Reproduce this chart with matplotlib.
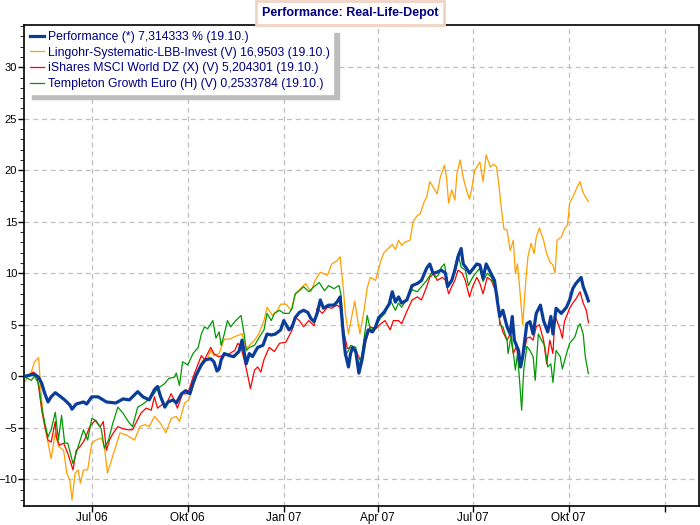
import datetime as dt
import matplotlib
matplotlib.use("Agg")
import matplotlib.pyplot as plt
from matplotlib.ticker import MultipleLocator

plt.rcParams['font.family'] = ['Liberation Sans', 'DejaVu Sans']

# Tage seit 27.04.2006, Werte in %
start = dt.date(2006, 4, 27)

perf_days = [1, 10, 14, 17, 20, 23, 26, 30, 34, 39, 44, 46, 50, 57, 60, 65, 71, 79, 88, 95,
             101, 109, 114, 120, 125, 128, 131, 135, 138, 143, 146, 151, 155, 159, 162, 165,
             170, 174, 179, 182, 185, 187, 189, 192, 197, 201, 206, 209, 213, 216, 219, 224,
             229, 233, 237, 241, 246, 249, 254, 257, 260, 264, 268, 272, 275, 278, 281, 284,
             287, 292, 297, 300, 303, 306, 308, 311, 313, 315, 318, 321, 324, 327, 330, 334,
             337, 340, 345, 350, 353, 356, 359, 362, 367, 372, 377, 381, 386, 389, 392, 396,
             400, 404, 406, 410, 413, 416, 419, 421, 424, 427, 431, 434, 437, 440, 443, 447,
             451, 454, 456, 459, 463, 466, 468, 470, 474, 476, 478, 482, 485, 488, 491, 495,
             498, 502, 505, 507, 510, 515, 520, 523, 526, 529, 534, 536, 539, 541]
perf_vals = [0.0, 0.2, -0.1, -0.7, -1.7, -2.5, -2.0, -1.6, -1.9, -2.3, -2.8, -3.2, -2.7, -2.5,
             -2.7, -2.0, -2.0, -2.5, -2.6, -2.2, -2.3, -1.5, -2.0, -2.3, -1.3, -1.0, -2.0, -3.0,
             -2.5, -2.3, -2.6, -1.7, -1.4, -1.7, -0.7, 0.1, 1.1, 1.6, 1.7, 1.4, 0.5, 0.7, 1.6,
             2.2, 2.0, 1.9, 2.4, 3.5, 1.2, 2.2, 1.9, 2.8, 3.0, 4.1, 4.0, 4.1, 4.5, 5.4, 4.5, 4.8,
             5.7, 6.2, 6.4, 6.2, 5.6, 5.3, 6.1, 7.4, 6.6, 6.9, 6.9, 7.2, 7.7, 4.1, 2.2, 0.9, 2.2,
             2.8, 2.4, 0.3, 1.6, 3.5, 4.5, 4.3, 4.8, 5.7, 6.2, 7.0, 8.2, 7.2, 7.7, 7.1, 7.4, 8.8,
             9.0, 9.3, 10.5, 10.9, 10.0, 10.1, 10.3, 10.0, 8.7, 9.3, 10.3, 11.6, 12.4, 10.9,
             10.5, 10.0, 10.5, 10.9, 10.8, 9.5, 10.9, 10.1, 9.3, 7.1, 5.8, 6.4, 4.8, 4.1, 5.8,
             3.5, 2.5, 0.9, 1.9, 5.1, 5.3, 4.1, 6.1, 6.9, 5.4, 4.3, 5.8, 4.1, 6.6, 6.1, 6.7, 7.4,
             8.5, 9.0, 9.6, 8.7, 7.9, 7.31]

ling_days = [1, 7, 10, 14, 16, 18, 22, 25, 26, 30, 33, 38, 41, 44, 46, 49, 52, 54, 57, 61, 65,
             69, 74, 77, 80, 84, 88, 92, 98, 106, 111, 116, 120, 125, 131, 136, 141, 146, 149,
             154, 158, 162, 166, 171, 176, 179, 182, 187, 192, 197, 201, 206, 209, 213, 216,
             221, 225, 230, 233, 238, 243, 246, 251, 256, 260, 265, 270, 275, 279, 284, 291,
             295, 300, 303, 306, 308, 311, 314, 317, 320, 322, 326, 329, 332, 337, 342, 345,
             350, 353, 356, 359, 362, 365, 370, 373, 377, 380, 383, 386, 389, 392, 396, 399,
             403, 405, 407, 410, 413, 415, 418, 421, 424, 427, 429, 432, 437, 440, 443, 447,
             450, 453, 455, 458, 460, 463, 466, 469, 471, 473, 475, 478, 481, 483, 486, 489,
             491, 494, 498, 501, 504, 507, 509, 511, 515, 518, 521, 523, 526, 529, 533, 535,
             537, 541]
ling_vals = [-0.5, 0.4, 1.4, 1.8, -1.0, -3.6, -5.9, -7.5, -8.0, -5.5, -6.8, -7.2, -9.4, -10.1,
             -12.0, -9.4, -9.1, -10.4, -9.1, -9.1, -6.5, -6.2, -6.0, -6.8, -9.4, -8.1, -6.8,
             -5.5, -5.7, -6.2, -4.9, -4.7, -4.9, -3.9, -4.6, -5.5, -4.1, -3.9, -4.4, -2.6, -2.3,
             -1.0, 0.3, 1.5, 1.7, 2.5, 2.0, 2.2, 3.6, 3.6, 3.8, 4.0, 4.1, 2.7, 3.0, 3.5, 4.1,
             5.4, 6.7, 5.9, 6.4, 7.0, 7.0, 6.4, 8.0, 8.5, 9.0, 8.2, 9.3, 10.1, 9.8, 10.9, 11.2,
             11.6, 8.6, 6.1, 4.1, 5.7, 7.3, 5.4, 4.1, 6.4, 8.6, 9.6, 9.3, 11.2, 12.0, 12.5, 12.8,
             12.3, 13.2, 12.7, 13.0, 13.2, 15.0, 15.6, 15.8, 16.8, 17.4, 18.9, 18.4, 17.7, 19.3,
             20.5, 19.3, 16.8, 18.1, 17.1, 19.7, 21.0, 19.3, 18.1, 17.2, 18.1, 20.0, 20.8, 18.9,
             21.5, 20.3, 20.6, 20.3, 18.7, 15.9, 14.3, 14.2, 12.2, 13.2, 10.0, 10.9, 8.7, 5.0,
             9.3, 11.6, 12.9, 11.9, 13.5, 14.4, 13.2, 11.9, 11.1, 10.8, 10.0, 13.2, 13.5, 14.3,
             14.7, 16.8, 17.4, 18.1, 18.9, 18.1, 17.6, 16.95]

msci_days = [1, 9, 12, 14, 17, 20, 23, 26, 30, 31, 34, 38, 42, 47, 50, 54, 58, 63, 68, 73,
             76, 79, 82, 85, 90, 95, 100, 104, 108, 112, 117, 122, 125, 128, 133, 136, 141,
             144, 147, 152, 157, 162, 167, 170, 173, 176, 179, 182, 186, 192, 197, 202, 205,
             208, 211, 214, 217, 221, 224, 227, 230, 235, 240, 245, 251, 257, 260, 264, 268,
             273, 278, 281, 286, 291, 295, 300, 303, 307, 310, 315, 318, 323, 327, 332, 337,
             342, 346, 351, 354, 359, 362, 367, 372, 377, 381, 386, 389, 393, 396, 401, 404,
             407, 410, 413, 416, 420, 423, 427, 430, 434, 437, 440, 444, 448, 453, 456, 459,
             463, 466, 469, 472, 475, 479, 482, 485, 488, 491, 494, 498, 501, 504, 507, 509,
             514, 516, 518, 523, 526, 529, 533, 536, 539, 541]
msci_vals = [-0.1, 0.4, 0.1, -1.0, -3.3, -4.9, -6.2, -6.4, -4.4, -5.9, -6.7, -6.5, -7.5, -9.1,
             -7.2, -6.8, -6.2, -4.9, -4.3, -4.9, -4.4, -7.2, -6.2, -5.6, -4.9, -5.1, -5.2, -5.2,
             -4.4, -3.6, -3.1, -3.3, -2.0, -3.1, -2.7, -2.8, -1.7, -2.3, -3.1, -1.7, -1.7, -0.1,
             1.2, 2.0, 1.6, 2.2, 2.8, 2.2, 1.9, 2.0, 2.2, 2.5, 3.2, 2.8, 1.6, 0.3, -1.2, 0.6,
             0.9, 0.4, 1.6, 2.8, 2.4, 3.2, 3.3, 4.5, 5.7, 5.4, 4.8, 5.4, 4.9, 6.6, 6.1, 6.7, 6.6,
             6.9, 6.7, 4.1, 2.7, 2.8, 2.5, 1.4, 3.2, 4.8, 4.6, 5.1, 5.4, 4.5, 5.4, 5.4, 5.1, 6.3,
             7.4, 7.7, 7.4, 8.7, 9.6, 10.0, 9.3, 9.6, 9.3, 8.0, 8.7, 9.3, 10.3, 10.0, 9.3, 7.7,
             8.7, 9.6, 9.0, 8.0, 9.6, 9.3, 8.0, 5.4, 4.3, 3.5, 4.1, 2.2, 2.9, 0.9, 2.2, 3.7, 3.8,
             3.5, 4.8, 5.0, 3.5, 1.2, 3.5, 2.2, 5.9, 4.5, 3.7, 5.3, 6.6, 7.1, 7.5, 8.2, 7.1, 6.4,
             5.2]

temp_days = [1, 7, 10, 14, 17, 20, 23, 26, 30, 33, 36, 39, 42, 47, 52, 57, 61, 65, 69, 74, 77,
             81, 85, 90, 95, 100, 104, 109, 114, 119, 124, 128, 135, 139, 144, 146, 149, 152,
             157, 162, 167, 170, 173, 176, 181, 184, 187, 189, 192, 195, 198, 203, 208, 211,
             213, 216, 221, 225, 230, 233, 237, 240, 245, 249, 254, 257, 260, 264, 268, 273,
             278, 283, 288, 292, 297, 302, 304, 306, 308, 311, 313, 318, 321, 324, 329, 332,
             337, 342, 346, 351, 356, 359, 362, 367, 372, 377, 381, 386, 391, 394, 397, 400,
             403, 406, 410, 413, 416, 419, 423, 426, 430, 433, 437, 440, 444, 448, 451, 454,
             456, 459, 463, 464, 467, 471, 473, 475, 477, 479, 482, 485, 488, 490, 493, 496,
             499, 502, 505, 507, 510, 514, 516, 520, 523, 528, 531, 533, 536, 538, 541]
temp_vals = [-0.1, -0.4, 0.0, -0.7, -3.0, -4.6, -5.9, -5.2, -3.5, -6.2, -3.8, -6.5, -6.5, -8.5,
             -6.8, -5.2, -6.2, -4.1, -4.3, -5.1, -7.0, -6.2, -4.6, -3.0, -3.6, -4.4, -4.9, -3.0,
             -2.7, -2.3, -1.8, -1.2, -0.7, -0.2, -0.1, 0.3, -0.9, 1.4, 1.1, 2.2, 2.8, 4.1, 4.8,
             4.6, 5.4, 3.7, 4.3, 3.0, 4.1, 5.4, 4.8, 5.4, 5.9, 4.1, 2.5, 2.8, 3.0, 3.7, 4.5, 6.1,
             5.4, 6.1, 6.4, 6.1, 6.1, 6.6, 8.0, 8.3, 8.7, 8.2, 8.7, 9.1, 8.3, 8.8, 8.5, 8.8, 7.8,
             4.8, 2.0, 2.5, 3.0, 2.8, 0.9, 2.2, 5.9, 4.5, 4.8, 5.7, 6.1, 7.4, 6.4, 7.1, 6.7, 7.5,
             8.4, 8.2, 8.7, 9.3, 10.1, 9.6, 9.8, 10.6, 10.9, 9.0, 9.2, 10.6, 11.9, 10.6, 10.3,
             8.8, 9.6, 10.0, 10.5, 9.2, 10.0, 9.6, 8.7, 7.9, 5.0, 4.8, 3.5, 2.2, 4.0, 0.6, 2.2,
             -0.4, -3.3, 0.6, 2.9, 2.5, 1.9, -0.4, 4.1, 3.5, 3.0, 0.9, 1.2, -0.6, 2.5, 1.9, 0.7,
             2.2, 3.2, 3.8, 4.8, 5.1, 4.1, 1.9, 0.25]

labels = ['Performance (*) 7,314333 % (19.10.)',
          'Lingohr-Systematic-LBB-Invest (V) 16,9503 (19.10.)',
          'iShares MSCI World DZ (X) (V) 5,204301 (19.10.)',
          'Templeton Growth Euro (H) (V) 0,2533784 (19.10.)']


def to_dates(days):
    return [start + dt.timedelta(days=d) for d in days]


fig = plt.figure(figsize=(7, 5.25), dpi=100)
ax = fig.add_axes([24 / 700, 19 / 525, 675 / 700, 481 / 525])

l1, = ax.plot(to_dates(perf_days), perf_vals, color='#0a3c9a', lw=2.3, zorder=5)
l2, = ax.plot(to_dates(ling_days), ling_vals, color='#ff9f00', lw=0.9, zorder=2)
l3, = ax.plot(to_dates(msci_days), msci_vals, color='#ff0000', lw=0.9, zorder=3)
l4, = ax.plot(to_dates(temp_days), temp_vals, color='#009900', lw=0.9, zorder=4)

ax.set_xlim(dt.date(2006, 4, 27), dt.date(2008, 2, 3))
ax.set_ylim(-12.6, 34.1)

tick_dates = [dt.date(2006, 7, 1), dt.date(2006, 10, 1), dt.date(2007, 1, 1),
              dt.date(2007, 4, 1), dt.date(2007, 7, 1), dt.date(2007, 10, 1),
              dt.date(2008, 1, 1)]
tick_names = ['Jul 06', 'Okt 06', 'Jan 07', 'Apr 07', 'Jul 07', 'Okt 07', '']
ax.set_xticks(tick_dates)
ax.set_xticklabels(tick_names)
ax.yaxis.set_major_locator(MultipleLocator(5))
ax.yaxis.set_minor_locator(MultipleLocator(1))
ax.tick_params(axis='x', labelsize=8.5, length=4, width=1, direction='out', pad=0.5)
ax.tick_params(axis='y', labelsize=8, length=4, width=1, direction='out', pad=1)
ax.tick_params(axis='y', which='minor', length=3)

ax.grid(True, color='#c0c0c0', linestyle=(0, (4, 3)), linewidth=0.9)
ax.set_axisbelow(True)
for sp in ax.spines.values():
    sp.set_linewidth(1.2)

leg = ax.legend([l1, l2, l3, l4], labels, loc='upper left', bbox_to_anchor=(0.0, 1.0),
                fontsize=8.8, frameon=True, fancybox=False, edgecolor='white',
                framealpha=1, borderpad=0.3, handlelength=1.1, handletextpad=0.35,
                labelspacing=0.3, borderaxespad=0.2,
                shadow={'color': '#bdbdbd', 'alpha': 1.0, 'ox': 4, 'oy': -4})
for t in leg.get_texts():
    t.set_color('#000080')
leg.set_zorder(10)

fig.text(0.5, 1 - 13 / 525, 'Performance: Real-Life-Depot', ha='center', va='center',
         fontsize=9, fontweight='bold', color='#000080',
         bbox=dict(boxstyle='square,pad=0.45', facecolor='white', edgecolor='#f0d4c4', lw=2))

fig.savefig('out.png', dpi=100)
